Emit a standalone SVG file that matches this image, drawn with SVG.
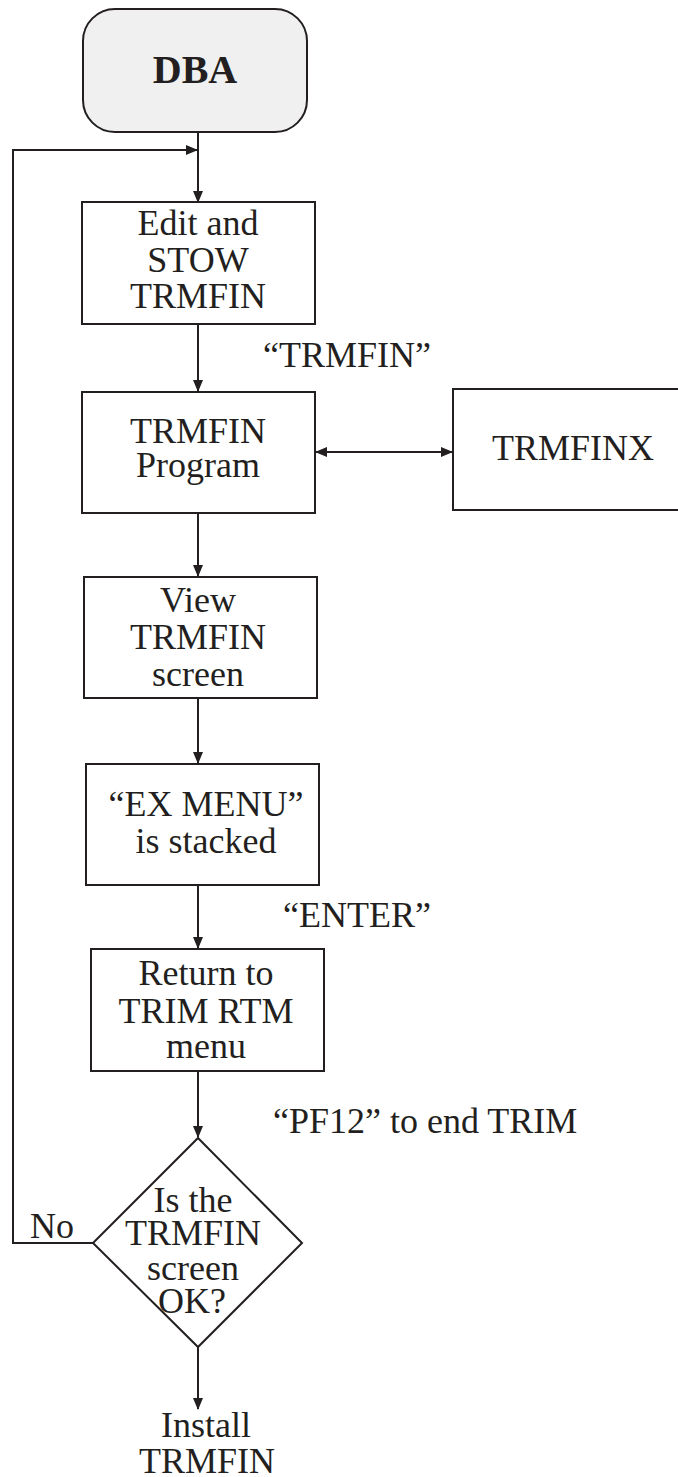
<svg xmlns="http://www.w3.org/2000/svg" width="678" height="1477" viewBox="0 0 678 1477">
<style>
.box{fill:#ffffff;stroke:#231f20;stroke-width:2}
.start{fill:#f0f0f1;stroke:#231f20;stroke-width:2}
.t{font-family:"Liberation Serif","Times New Roman",serif;font-size:36px;fill:#231f20;text-anchor:middle}
.b{font-weight:bold;font-size:40px}
.l{text-anchor:start}
.c{fill:none;stroke:#231f20;stroke-width:2}
</style>
<defs>
<marker id="ah" markerWidth="12" markerHeight="10" refX="11" refY="5" orient="auto-start-reverse" markerUnits="userSpaceOnUse">
<path d="M0,0 L12,5 L0,10 Z" fill="#231f20"/>
</marker>
</defs>
<rect width="678" height="1477" fill="#ffffff"/>
<g id="connectors">
<line class="c" x1="198" y1="132" x2="198" y2="202" marker-end="url(#ah)"/>
<polyline class="c" points="93,1243 13,1243 13,150 197,150" marker-end="url(#ah)"/>
<line class="c" x1="198" y1="324" x2="198" y2="391" marker-end="url(#ah)"/>
<line class="c" x1="316" y1="452" x2="452" y2="452" marker-start="url(#ah)" marker-end="url(#ah)"/>
<line class="c" x1="198" y1="513" x2="198" y2="576" marker-end="url(#ah)"/>
<line class="c" x1="198" y1="698" x2="198" y2="763" marker-end="url(#ah)"/>
<line class="c" x1="198" y1="885" x2="198" y2="948" marker-end="url(#ah)"/>
<line class="c" x1="198" y1="1071" x2="198" y2="1137" marker-end="url(#ah)"/>
<line class="c" x1="198" y1="1347" x2="198" y2="1409" marker-end="url(#ah)"/>
<text class="t l" x="263" y="367">“TRMFIN”</text>
<text class="t l" x="283" y="927">“ENTER”</text>
<text class="t l" x="273" y="1133">“PF12” to end TRIM</text>
<text class="t l" x="30" y="1238">No</text>
</g>
<g id="dba">
<rect class="start" x="83" y="9" width="224" height="123" rx="32" ry="32"/>
<text class="t b" x="195" y="83">DBA</text>
</g>
<g id="edit">
<rect class="box" x="82" y="202" width="233" height="122"/>
<text class="t" x="198" y="235">Edit and</text>
<text class="t" x="198" y="272">STOW</text>
<text class="t" x="198" y="308">TRMFIN</text>
</g>
<g id="program">
<rect class="box" x="82" y="392" width="233" height="121"/>
<text class="t" x="198" y="443">TRMFIN</text>
<text class="t" x="198" y="477">Program</text>
</g>
<g id="trmfinx">
<rect class="box" x="453" y="389" width="240" height="121"/>
<text class="t" x="573" y="460">TRMFINX</text>
</g>
<g id="view">
<rect class="box" x="84" y="577" width="233" height="121"/>
<text class="t" x="198" y="612">View</text>
<text class="t" x="198" y="649">TRMFIN</text>
<text class="t" x="198" y="686">screen</text>
</g>
<g id="exmenu">
<rect class="box" x="86" y="764" width="233" height="121"/>
<text class="t" x="206" y="816">“EX MENU”</text>
<text class="t" x="206" y="853">is stacked</text>
</g>
<g id="return">
<rect class="box" x="91" y="949" width="233" height="122"/>
<text class="t" x="206" y="985">Return to</text>
<text class="t" x="206" y="1023">TRIM RTM</text>
<text class="t" x="206" y="1058">menu</text>
</g>
<g id="decision">
<polygon class="box" points="198,1138 302,1243 198,1347 93,1243"/>
<text class="t" x="193" y="1212">Is the</text>
<text class="t" x="193" y="1245">TRMFIN</text>
<text class="t" x="193" y="1280">screen</text>
<text class="t" x="192" y="1313">OK?</text>
</g>
<g id="install">
<text class="t" x="206" y="1437">Install</text>
<text class="t" x="207" y="1473">TRMFIN</text>
</g>
</svg>
